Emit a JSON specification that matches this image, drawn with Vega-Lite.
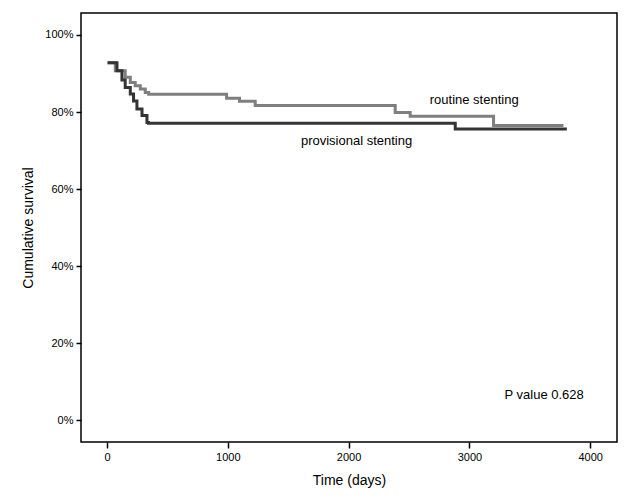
{
  "$schema": "https://vega.github.io/schema/vega-lite/v6.json",
  "autosize": {"type": "none"},
  "padding": {"left": 81, "top": 13, "right": 12, "bottom": 62},
  "width": 536,
  "height": 429,
  "background": "white",
  "config": {
    "font": "Liberation Sans",
    "view": {"stroke": "black", "strokeWidth": 1.5},
    "axis": {
      "domain": false,
      "grid": false,
      "tickColor": "black",
      "tickWidth": 1.5,
      "tickSize": 5,
      "labelColor": "black",
      "labelFont": "Liberation Sans",
      "labelFontSize": 11,
      "labelPadding": 3,
      "titleFont": "Liberation Sans",
      "titleFontSize": 14,
      "titleFontWeight": "normal",
      "titleColor": "black"
    }
  },
  "datasets": {
    "curves": [
      {"group": "routine", "day": 5, "surv": 0.928},
      {"group": "routine", "day": 69, "surv": 0.907},
      {"group": "routine", "day": 151, "surv": 0.89},
      {"group": "routine", "day": 193, "surv": 0.877},
      {"group": "routine", "day": 234, "surv": 0.868},
      {"group": "routine", "day": 276, "surv": 0.86},
      {"group": "routine", "day": 317, "surv": 0.851},
      {"group": "routine", "day": 345, "surv": 0.846},
      {"group": "routine", "day": 990, "surv": 0.836},
      {"group": "routine", "day": 1097, "surv": 0.828},
      {"group": "routine", "day": 1227, "surv": 0.817},
      {"group": "routine", "day": 2386, "surv": 0.799},
      {"group": "routine", "day": 2510, "surv": 0.789},
      {"group": "routine", "day": 3200, "surv": 0.765},
      {"group": "routine", "day": 3779, "surv": 0.765},
      {"group": "provisional", "day": 5, "surv": 0.928},
      {"group": "provisional", "day": 83, "surv": 0.907},
      {"group": "provisional", "day": 124, "surv": 0.883},
      {"group": "provisional", "day": 151, "surv": 0.864},
      {"group": "provisional", "day": 193, "surv": 0.847},
      {"group": "provisional", "day": 220, "surv": 0.829},
      {"group": "provisional", "day": 248, "surv": 0.808},
      {"group": "provisional", "day": 290, "surv": 0.791},
      {"group": "provisional", "day": 331, "surv": 0.773},
      {"group": "provisional", "day": 344, "surv": 0.771},
      {"group": "provisional", "day": 2883, "surv": 0.756},
      {"group": "provisional", "day": 3807, "surv": 0.756}
    ],
    "labels": [
      {"text": "routine stenting", "day": 3040, "surv": 0.832},
      {"text": "provisional stenting", "day": 2066, "surv": 0.726},
      {"text": "P value 0.628", "day": 3619, "surv": 0.067}
    ]
  },
  "layer": [
    {
      "data": {"name": "curves"},
      "mark": {"type": "line", "interpolate": "step-after", "strokeWidth": 3, "clip": true},
      "encoding": {
        "x": {
          "field": "day", "type": "quantitative",
          "scale": {"domain": [-215, 4222], "nice": false, "zero": false},
          "axis": {"values": [0, 1000, 2000, 3000, 4000], "format": "d", "title": "Time (days)", "titlePadding": 11, "tickSize": 6}
        },
        "y": {
          "field": "surv", "type": "quantitative",
          "scale": {"domain": [-0.056, 1.057], "nice": false, "zero": false},
          "axis": {"values": [0, 0.2, 0.4, 0.6, 0.8, 1.0], "format": ".0%", "title": "Cumulative survival", "titlePadding": 9}
        },
        "color": {
          "field": "group", "type": "nominal",
          "scale": {"domain": ["routine", "provisional"], "range": ["#7f7f7f", "#343434"]},
          "legend": null
        },
        "order": {"field": "day", "type": "quantitative"}
      }
    },
    {
      "data": {"name": "labels"},
      "mark": {"type": "text", "fontSize": 13, "font": "Liberation Sans", "color": "black", "align": "center", "baseline": "middle"},
      "encoding": {
        "x": {"field": "day", "type": "quantitative"},
        "y": {"field": "surv", "type": "quantitative"},
        "text": {"field": "text"}
      }
    }
  ]
}
